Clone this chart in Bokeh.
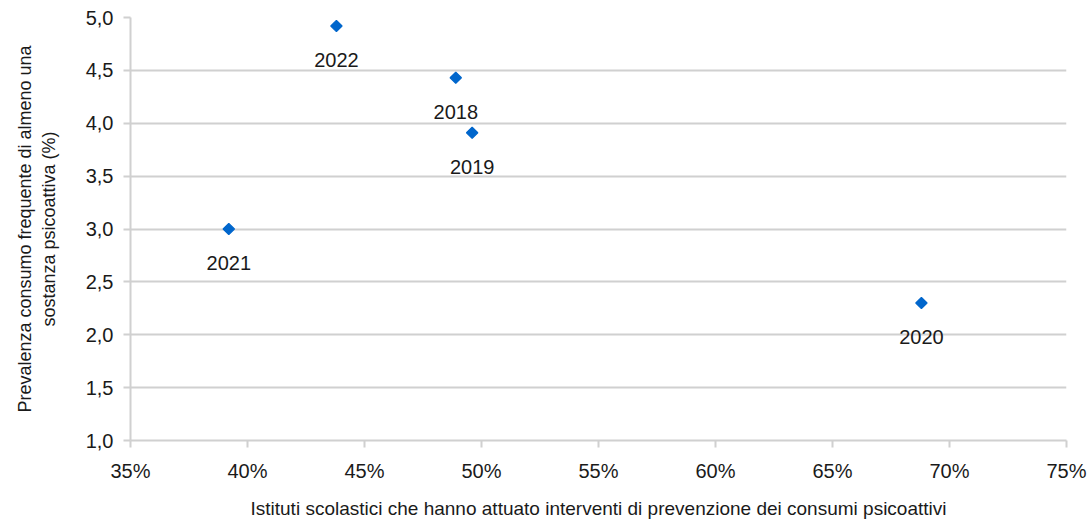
import math
from bokeh.plotting import figure
from bokeh.models import ColumnDataSource, FixedTicker, CustomJSTickFormatter, Range1d
from bokeh.core.properties import value
from bokeh.embed import file_html
from bokeh.resources import INLINE

years = ["2018", "2019", "2020", "2021", "2022"]
istituti_pct = [48.9, 49.6, 68.8, 39.2, 43.8]
prevalenza = [4.43, 3.91, 2.30, 3.00, 4.92]

x_ticks = [35, 40, 45, 50, 55, 60, 65, 70, 75]
y_ticks = [1.0, 1.5, 2.0, 2.5, 3.0, 3.5, 4.0, 4.5, 5.0]

FONT = "Liberation Sans"
TXT = "#1a1a1a"
GRID = "#d0d0d0"

src = ColumnDataSource(dict(x=istituti_pct, y=prevalenza, lab=years))

p = figure(width=1091, height=522, output_backend="svg", toolbar_location=None,
           x_range=Range1d(35, 75), y_range=Range1d(1.0, 5.0),
           min_border_left=130, min_border_right=25, min_border_top=17, min_border_bottom=82)
p.outline_line_color = None
p.background_fill_color = "white"
p.border_fill_color = "white"

p.scatter("x", "y", source=src, marker="square", size=8, angle=math.pi / 4,
          fill_color="#0066CC", line_color="#0066CC", line_width=1.2)
p.text("x", "y", text="lab", source=src, text_align="center", text_baseline="middle",
       y_offset=34, text_font=value(FONT), text_font_size="20px", text_color=TXT)

p.xaxis.ticker = FixedTicker(ticks=x_ticks)
p.xaxis.formatter = CustomJSTickFormatter(code="return tick.toFixed(0) + '%';")
p.yaxis.ticker = FixedTicker(ticks=y_ticks)
p.yaxis.formatter = CustomJSTickFormatter(code="return tick.toFixed(1).replace('.', ',');")

p.xaxis.axis_label = "Istituti scolastici che hanno attuato interventi di prevenzione dei consumi psicoattivi"
p.yaxis.axis_label = "Prevalenza consumo frequente di almeno una\nsostanza psicoattiva (%)"

for ax in (p.xaxis[0], p.yaxis[0]):
    ax.axis_line_color = GRID
    ax.axis_line_width = 2
    ax.major_tick_line_color = GRID
    ax.major_tick_line_width = 2
    ax.major_tick_out = 7
    ax.major_tick_in = 0
    ax.minor_tick_line_color = None
    ax.major_label_text_font = FONT
    ax.major_label_text_font_size = "20px"
    ax.major_label_text_color = TXT
    ax.axis_label_text_font = FONT
    ax.axis_label_text_font_style = "normal"
    ax.axis_label_text_color = TXT

p.xaxis.axis_label_text_font_size = "19px"
p.yaxis.axis_label_text_font_size = "18px"
p.xaxis.major_label_standoff = 12
p.xaxis.axis_label_standoff = 13
p.yaxis.major_label_standoff = 10
p.yaxis.axis_label_standoff = 24

p.xgrid.grid_line_color = None
p.ygrid.grid_line_color = GRID
p.ygrid.grid_line_width = 2

open("out.html", "w").write(file_html(p, INLINE))
